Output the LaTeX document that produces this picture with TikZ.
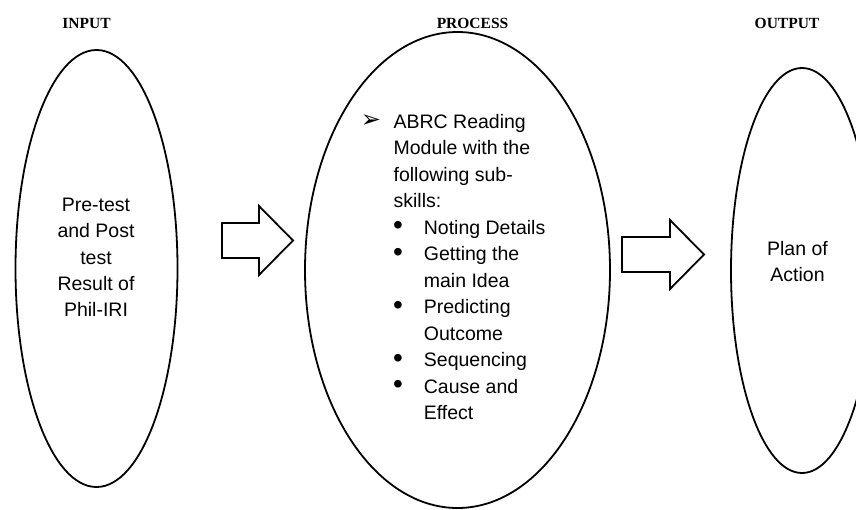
\documentclass[tikz,border=0pt]{standalone}
\usepackage{fontspec}
\setmainfont{Liberation Sans}
\newfontfamily\headfont{Liberation Serif}
\newfontfamily\dingfont{DejaVu Sans}
\usetikzlibrary{shapes.geometric}

\begin{document}
\begin{tikzpicture}[x=1pt,y=-1pt,line width=1.8pt,
    oval/.style={draw,ellipse,inner sep=0pt},
    head/.style={font=\headfont\bfseries\fontsize{15.5}{18}\selectfont,anchor=base},
    body/.style={font=\fontsize{19.5}{23}\selectfont,anchor=base,inner sep=0pt}]
%      \draw[style=help lines] (0,0) grid[step=50] (856,509);
      \useasboundingbox (0,0) rectangle (856,509);
      \clip (0,0) rectangle (856,509);
      \node[head] (hin) at (86.5,28.3) {INPUT};
      \node[head] (hproc) at (472.5,28.3) {PROCESS};
      \node[head] (hout) at (787,28.3) {OUTPUT};
      \node[oval,minimum width=162pt,minimum height=437pt] (input) at (96.5,268.5) {};
      \node[oval,minimum width=305pt,minimum height=476pt] (process) at (457.5,270) {};
      \node[oval,minimum width=142pt,minimum height=405pt] (output) at (802,270.5) {};
      % block arrows
      \foreach \sx/\cy/\sl in {222/240/37,622/254/48}
        \draw (\sx,\cy-17) -- ++(\sl,0) -- ++(0,-17) -- ++(34,34.5) -- ++(-34,34.5)
              -- ++(0,-17) -- ++(-\sl,0) -- cycle;
      % input text
      \foreach \txt [count=\i] in {Pre-test,and Post,test,Result of,Phil-IRI}
        \node[body] (in\i) at (96,185.45+26.25*\i) {\txt};
      % process text
      \node[font=\dingfont\fontsize{24}{24}\selectfont,inner sep=0pt] (tip) at (371,121.3) {➢};
      \foreach \txt [count=\i] in {ABRC Reading,Module with the,following sub-,skills:}
        \node[body,anchor=base west] (mod\i) at (392.7,101.8+26.5*\i) {\txt};
      \foreach \txt [count=\i from 5] in {Noting Details,Getting the,main Idea,Predicting,Outcome,Sequencing,Cause and,Effect}
        \node[body,anchor=base west] (sub\i) at (423,101.8+26.5*\i) {\txt};
      \foreach \r in {5,6,8,10,11}
        \node[font=\fontsize{28}{28}\selectfont,inner sep=0pt] (dot\r) at (398,95.8+26.5*\r) {\textbullet};
      % output text
      \foreach \txt [count=\i] in {Plan of,Action}
        \node[body] (out\i) at (797.5,228.3+26.7*\i) {\txt};
    \end{tikzpicture}
\end{document}
